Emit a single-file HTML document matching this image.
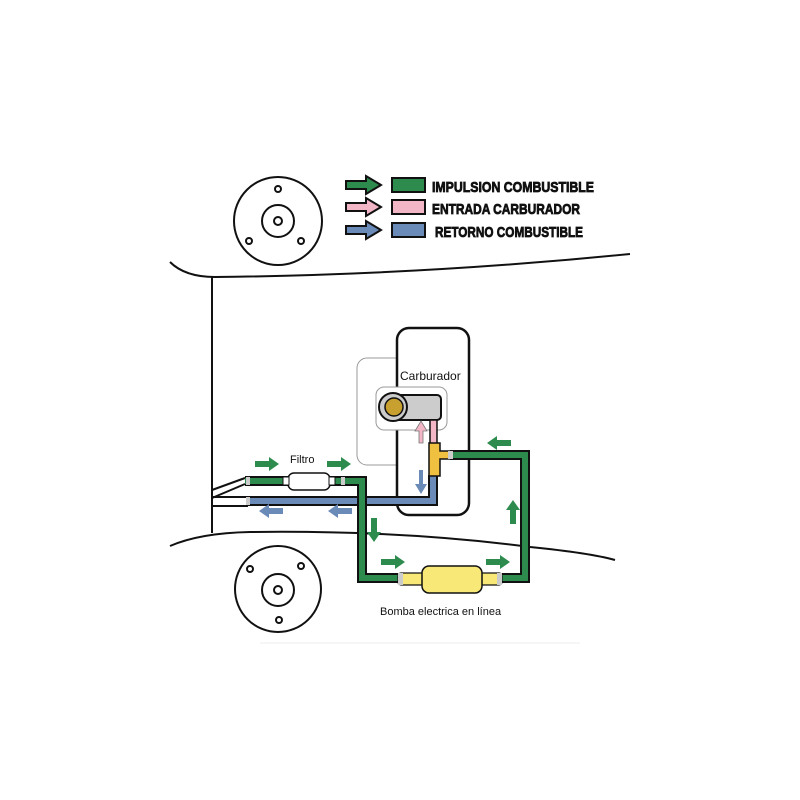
<!DOCTYPE html>
<html><head><style>
html,body{margin:0;padding:0;background:#fff;}
svg{display:block;}
text{font-family:"Liberation Sans",sans-serif;}
</style></head><body>
<svg width="800" height="800" viewBox="0 0 800 800" xmlns="http://www.w3.org/2000/svg">
<defs>
<g id="ga"><path d="M0,-3 H14 V-7 L24,0 L14,7 V3 H0 Z" fill="#2e8b4e"/></g>
<g id="ba"><path d="M0,-3 H14 V-7 L24,0 L14,7 V3 H0 Z" fill="#6a8ab8"/></g>
</defs>
<rect width="800" height="800" fill="#fff"/>
<g fill="none" stroke="#111" stroke-width="2">
<circle cx="278" cy="221" r="44"/><circle cx="278" cy="221" r="16"/><circle cx="278" cy="221" r="4"/>
<circle cx="278" cy="189" r="3"/><circle cx="249" cy="241" r="3"/><circle cx="301" cy="241" r="3"/>
</g>
<g fill="none" stroke="#111" stroke-width="2">
<circle cx="278" cy="589" r="43"/><circle cx="278" cy="590" r="16"/><circle cx="278" cy="590" r="4"/>
<circle cx="250" cy="569" r="3"/><circle cx="301" cy="566" r="3"/><circle cx="279" cy="620" r="3"/>
</g>
<g fill="none" stroke="#111" stroke-width="2">
<path d="M170,262 Q185,277 215,277 Q420,275 630,254"/>
<path d="M212,277 V533"/>
<path d="M170,546 Q200,533 250,532 Q400,530 530,547 Q590,553 615,560"/>
<path d="M212,490 L245,478"/>
<path d="M212,498 L245,484"/>
<path d="M212,497 H248 M212,506 H248"/>
</g>
<line x1="260" y1="643" x2="580" y2="643" stroke="#eee" stroke-width="1"/>
<g stroke="#111" stroke-width="2">
<path d="M346,181 H366 V176 L381,185 L366,194 V189 H346 Z" fill="#2e8b4e"/>
<path d="M346,203 H366 V198 L381,207 L366,216 V211 H346 Z" fill="#f2b6c6"/>
<path d="M346,226 H366 V221 L381,230 L366,239 V234 H346 Z" fill="#6a8ab8"/>
<rect x="392" y="178" width="33" height="14" fill="#2e8b4e"/>
<rect x="392" y="200" width="33" height="14" fill="#f2b6c6"/>
<rect x="392" y="223" width="33" height="14" fill="#6a8ab8"/>
</g>
<g font-weight="bold" font-size="15" fill="#111" stroke="#111" stroke-width="0.8">
<text x="432" y="192" textLength="162" lengthAdjust="spacingAndGlyphs">IMPULSION COMBUSTIBLE</text>
<text x="432" y="214" textLength="148" lengthAdjust="spacingAndGlyphs">ENTRADA CARBURADOR</text>
<text x="435" y="237" textLength="148" lengthAdjust="spacingAndGlyphs">RETORNO COMBUSTIBLE</text>
</g>
<rect x="357" y="358" width="60" height="107" rx="10" fill="none" stroke="#999" stroke-width="1"/>
<rect x="397" y="328" width="72" height="187" rx="12" fill="#fff" stroke="#111" stroke-width="2.5"/>
<rect x="376" y="387" width="71" height="43" rx="8" fill="#fff" stroke="#999" stroke-width="1"/>
<rect x="393" y="395" width="48" height="25" rx="4" fill="#ccc" stroke="#111" stroke-width="2"/>
<circle cx="393" cy="407" r="14" fill="#ccc" stroke="#111" stroke-width="2"/>
<circle cx="394" cy="407" r="9" fill="#c8a030" stroke="#111" stroke-width="1.5"/>
<text x="400" y="380" font-size="12" fill="#111">Carburador</text>
<path d="M248,501 H433 V475" fill="none" stroke="#111" stroke-width="10"/>
<path d="M248,501 H433 V475" fill="none" stroke="#6a8ab8" stroke-width="6"/>
<rect x="430" y="420" width="7" height="25" fill="#f2b6c6" stroke="#111" stroke-width="1.5"/>
<path d="M245,481 H362 V578 H400" fill="none" stroke="#111" stroke-width="10"/>
<path d="M245,481 H362 V578 H400" fill="none" stroke="#2e8b4e" stroke-width="6"/>
<path d="M502,578 H525 V455 H450" fill="none" stroke="#111" stroke-width="10"/>
<path d="M502,578 H525 V455 H450" fill="none" stroke="#2e8b4e" stroke-width="6"/>
<path d="M429,443 H440 V451 H452 V459 H440 V476 H429 Z" fill="#f0c040" stroke="#111" stroke-width="1.5"/>
<rect x="448" y="451" width="5" height="8" fill="#ccc"/>
<rect x="288" y="473" width="42" height="17" rx="6" fill="#fff" stroke="#111" stroke-width="1.5"/>
<rect x="283" y="477" width="6" height="8" fill="#fff" stroke="#111" stroke-width="1"/>
<rect x="329" y="477" width="6" height="8" fill="#fff" stroke="#111" stroke-width="1"/>
<rect x="246" y="477" width="4" height="8" fill="#ccc"/>
<rect x="246" y="497" width="4" height="8" fill="#ccc"/>
<rect x="341" y="477" width="4" height="8" fill="#ccc"/>
<text x="290" y="463" font-size="11" fill="#111">Filtro</text>
<rect x="398" y="573" width="104" height="12" rx="3" fill="#f8e878" stroke="#111" stroke-width="1.2"/>
<rect x="398" y="573" width="5" height="12" fill="#ccc"/>
<rect x="497" y="573" width="5" height="12" fill="#ccc"/>
<rect x="422" y="566" width="60" height="27" rx="7" fill="#f8e878" stroke="#111" stroke-width="1.5"/>
<text x="380" y="615" font-size="11" fill="#111">Bomba electrica en línea</text>
<use href="#ga" transform="translate(255,464)"/>
<use href="#ga" transform="translate(327,464)"/>
<use href="#ba" transform="translate(283,511) rotate(180)"/>
<use href="#ba" transform="translate(352,511) rotate(180)"/>
<use href="#ga" transform="translate(374,518) rotate(90)"/>
<use href="#ga" transform="translate(381,562)"/>
<use href="#ga" transform="translate(486,562)"/>
<use href="#ga" transform="translate(513,524) rotate(-90)"/>
<use href="#ga" transform="translate(511,443) rotate(180)"/>
<path d="M419,443 V431 H415 L421,421 L427,431 H423 V443 Z" fill="#f2b6c6" stroke="#777" stroke-width="0.8"/>
<path d="M419,470 V484 H415 L421,494 L427,484 H423 V470 Z" fill="#6a8ab8"/>
</svg>
</body></html>
